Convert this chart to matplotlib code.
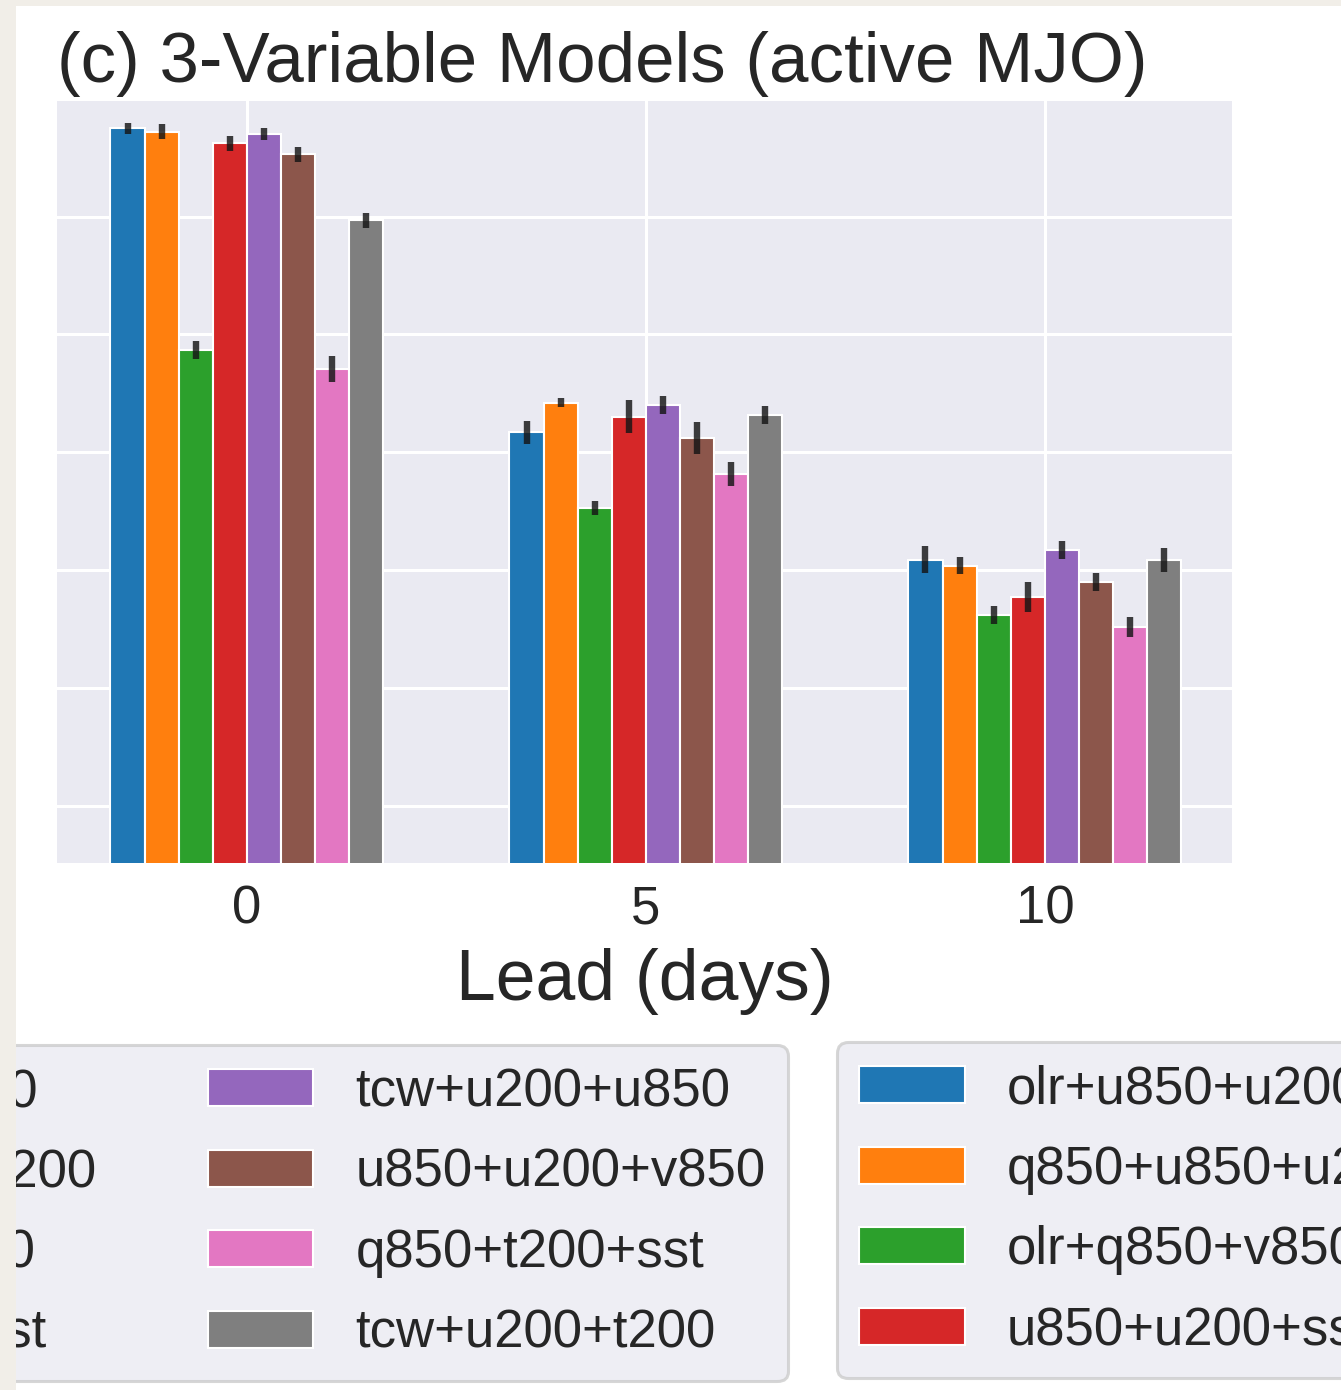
import matplotlib
matplotlib.use('Agg')
import matplotlib.pyplot as plt
from matplotlib.patches import Rectangle
import numpy as np

plt.rcParams['font.family'] = ['Liberation Sans', 'DejaVu Sans']
plt.rcParams['text.color'] = '#262626'
plt.rcParams['axes.labelcolor'] = '#262626'

# -----------------------------------------
# DATOS
# -----------------------------------------

leads = ['0', '5', '10']

modelos = [
    'olr+u850+u200', 'q850+u850+u200', 'olr+q850+v850', 'u850+u200+sst',
    'tcw+u200+u850', 'u850+u200+v850', 'q850+t200+sst', 'tcw+u200+t200',
]

colores = ['#1f77b4', '#ff7f0e', '#2ca02c', '#d62728',
           '#9467bd', '#8c564b', '#e377c2', '#7f7f7f']

# valor por modelo, una lista por lead (0, 5, 10 días)
valores = [
    [0.875, 0.872, 0.687, 0.862, 0.870, 0.853, 0.671, 0.797],
    [0.617, 0.642, 0.553, 0.630, 0.640, 0.612, 0.582, 0.632],
    [0.509, 0.504, 0.462, 0.477, 0.517, 0.490, 0.452, 0.509],
]

errores = [
    [0.0047, 0.0064, 0.0076, 0.0064, 0.0051, 0.0064, 0.0110, 0.0064],
    [0.0097, 0.0038, 0.0059, 0.0140, 0.0076, 0.0136, 0.0102, 0.0076],
    [0.0114, 0.0072, 0.0076, 0.0127, 0.0076, 0.0076, 0.0085, 0.0102],
]

# -----------------------------------------
# FIGURA
# -----------------------------------------

fig = plt.figure(figsize=(13.41, 13.9), dpi=100, facecolor='white')
ax = fig.add_axes([57/1341, 1 - 863/1390, 1175/1341, 762/1390])

ax.set_facecolor('#EAEAF2')
for s in ax.spines.values():
    s.set_visible(False)
ax.grid(True, color='white', linewidth=2.2)
ax.set_axisbelow(True)

ancho = 0.0855
x = np.arange(len(leads))
val = np.array(valores)
err = np.array(errores)

barras = []
for i, modelo in enumerate(modelos):
    pos = x + (i - 3.5) * ancho
    b = ax.bar(pos, val[:, i], width=ancho, color=colores[i],
               edgecolor='white', linewidth=1.5, label=modelo, zorder=2)
    barras.append(b)
    ax.errorbar(pos, val[:, i], yerr=err[:, i], fmt='none',
                ecolor='#151515', elinewidth=4.6, alpha=0.82, zorder=3)

ax.set_xlim(-0.476, 2.469)
ax.set_ylim(0.2517, 0.898)
ax.set_yticks([0.3, 0.4, 0.5, 0.6, 0.7, 0.8])
ax.set_yticklabels([])
ax.set_xticks(x)
ax.set_xticklabels(leads, fontsize=38)
ax.tick_params(length=0, pad=15.5, colors='#262626')

ax.set_xlabel('Lead (days)', fontsize=51.5, labelpad=9.5)
ax.set_title('(c) 3-Variable Models (active MJO)', loc='left',
             fontsize=51, pad=13.5)

# -----------------------------------------
# LEYENDAS (recortadas por el borde)
# -----------------------------------------

opts = dict(ncol=2, fontsize=38, borderaxespad=0, frameon=True,
            facecolor='#EAEAF2', framealpha=0.8, edgecolor='#cccccc',
            handlelength=2.0, handletextpad=0.8, columnspacing=2.1,
            labelspacing=0.58, borderpad=0.42)

leg1 = fig.legend(handles=barras, labels=modelos, loc='upper right',
                  bbox_to_anchor=(788/1341, 1 - 1045/1390), **opts)
leg2 = fig.legend(handles=barras, labels=modelos, loc='upper left',
                  bbox_to_anchor=(837/1341, 1 - 1042/1390), **opts)
for leg in (leg1, leg2):
    leg.get_frame().set_linewidth(2.2)

# borde beige de la captura
fig.add_artist(Rectangle((0, 0), 16/1341, 1, transform=fig.transFigure,
                         facecolor='#f1eee8', edgecolor='none', zorder=100))
fig.add_artist(Rectangle((0, 1 - 6/1390), 1, 6/1390, transform=fig.transFigure,
                         facecolor='#f1eee8', edgecolor='none', zorder=100))

fig.savefig('out.png', dpi=100)
